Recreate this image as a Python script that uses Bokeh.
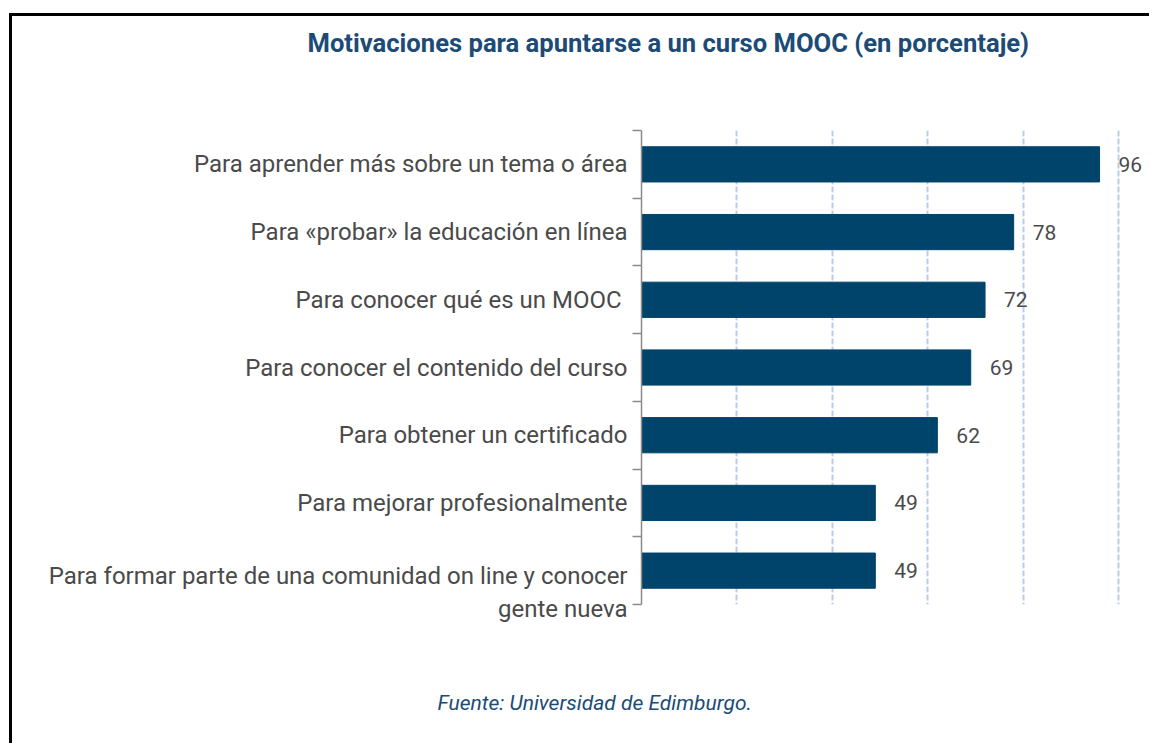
from bokeh.plotting import figure
from bokeh.models import Range1d, FixedTicker, ColumnDataSource, Title, LinearAxis
from bokeh.core.properties import value
from bokeh.embed import file_html
from bokeh.resources import INLINE

categories = [
    "Para aprender más sobre un tema o área",
    "Para «probar» la educación en línea",
    "Para conocer qué es un MOOC ",
    "Para conocer el contenido del curso",
    "Para obtener un certificado",
    "Para mejorar profesionalmente",
    "Para formar parte de una comunidad on line y conocer\ngente nueva",
]
values = [96, 78, 72, 69, 62, 49, 49]
grid_ticks = [20, 40, 60, 80, 100]
title_text = "Motivaciones para apuntarse a un curso MOOC (en porcentaje)"
source_text = "Fuente: Universidad de Edimburgo."

FONT = "Roboto"
BAR = "#00436b"
TITLE_C = "#1b4b76"
GRAY = "#4a4a4a"

n = len(categories)
pos = list(range(1, n + 1))
# multi-line labels: first line level with the bar
label_ticks = [k + 0.32 * c.count("\n") for k, c in zip(pos, categories)]

W, H = 1140, 730
p = figure(width=W, height=H, output_backend="svg", toolbar_location=None,
           x_range=Range1d(0, 105), y_range=Range1d(n + 0.5, 0.5),
           min_border_left=629, min_border_right=10, min_border_top=114,
           min_border_bottom=142)
p.outline_line_color = None
p.background_fill_color = "white"
p.border_fill_color = "white"
p.styles = {"border-top": "3px solid black", "border-left": "3px solid black",
            "margin-left": "9px", "margin-top": "13px"}

src = ColumnDataSource(dict(y=pos, v=values, t=[str(v) for v in values]))
p.hbar(y="y", right="v", left=0, height=0.52, source=src,
       fill_color=BAR, line_color=BAR)
p.text(x="v", y="y", text="t", source=src, x_offset=19, text_baseline="middle",
       text_align="left", text_color=GRAY, text_font=value(FONT),
       text_font_size="21px")

# grid
p.xgrid.ticker = FixedTicker(ticks=grid_ticks)
p.xgrid.grid_line_color = "#b9cde9"
p.xgrid.grid_line_dash = "6 2"
p.xgrid.grid_line_width = 2
p.ygrid.visible = False


def spacer(ax, size):
    # an axis with one blank, white tick: it only reserves vertical space
    ax.ticker = FixedTicker(ticks=[50])
    ax.major_label_overrides = {50: ""}
    ax.major_label_text_font_size = "1px"
    ax.major_label_standoff = 0
    ax.axis_line_color = None
    ax.major_tick_line_color = "white"
    ax.minor_tick_line_color = None
    ax.major_tick_out = size
    ax.major_tick_in = 0
    ax.minor_tick_out = 0
    return ax


xa = spacer(p.xaxis[0], 81)
top_ax = spacer(LinearAxis(), 68)

ya = p.yaxis[0]
ya.ticker = FixedTicker(ticks=label_ticks, minor_ticks=[k + 0.5 for k in range(n + 1)])
ya.major_label_overrides = {t: c for t, c in zip(label_ticks, categories)}
ya.major_tick_out = 0
ya.major_tick_in = 0
ya.minor_tick_out = 9
ya.minor_tick_in = 0
ya.minor_tick_line_color = "#8a8a8a"
ya.minor_tick_line_width = 1.5
ya.axis_line_color = "#8a8a8a"
ya.axis_line_width = 1.5
ya.major_label_standoff = 5
ya.major_label_text_font = FONT
ya.major_label_text_font_size = "24px"
ya.major_label_text_color = GRAY

# title and source
title = Title(text=title_text, align="left", offset=-334,
              text_font=FONT, text_font_style="bold",
              text_font_size="25.6px", text_color=TITLE_C)
footer = Title(text=source_text, align="left", offset=-204, vertical_align="top",
               text_font=FONT, text_font_style="italic",
               text_font_size="21px", text_color=TITLE_C)
p.above = [top_ax, title]
p.below = [xa, footer]

open("out.html", "w").write(file_html(p, INLINE))
